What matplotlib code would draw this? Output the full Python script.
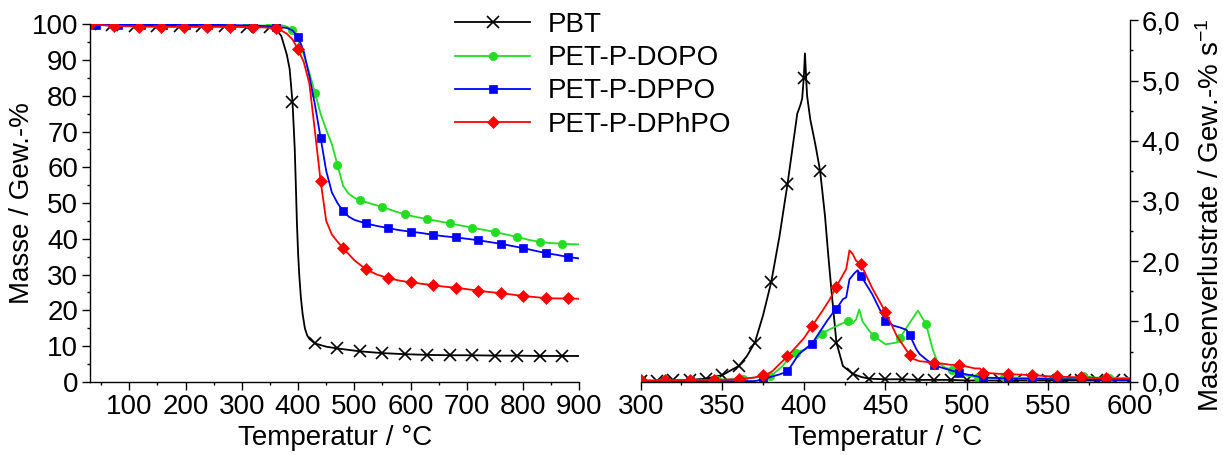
import numpy as np
import matplotlib
matplotlib.use('Agg')
import matplotlib.pyplot as plt
from matplotlib.ticker import MultipleLocator, FuncFormatter

plt.rcParams['font.family'] = ['Liberation Sans', 'DejaVu Sans']
plt.rcParams['mathtext.fontset'] = 'custom'
plt.rcParams['mathtext.rm'] = 'Liberation Sans'
plt.rcParams['mathtext.it'] = 'Liberation Sans:italic'
plt.rcParams['mathtext.default'] = 'regular'

# ---------------- data ----------------
series_names = ['PBT', 'PET-P-DOPO', 'PET-P-DPPO', 'PET-P-DPhPO']
colors = ['#000000', '#22dd22', '#0000ff', '#ff0000']
markers = ['x', 'o', 's', 'D']

# TGA (left): temperature / mass
pbt_T = [30, 70, 110, 150, 190, 230, 270, 310, 350, 360, 370, 375, 380, 385, 390, 392, 394, 396, 398, 400,
         402, 405, 408, 412, 416, 420, 430, 450, 470, 510, 550, 590, 630, 670, 710, 750, 790, 830, 870, 900]
pbt_m = [100, 99.7, 99.6, 99.6, 99.6, 99.5, 99.5, 99.4, 99.2, 98.8, 96.8, 94.2, 91.5, 87.5, 78.3, 72, 65.3, 55, 44, 36,
         30, 23.5, 19, 15, 13, 12, 10.7, 9.8, 9.3, 8.5, 8.0, 7.7, 7.5, 7.4, 7.4, 7.3, 7.3, 7.2, 7.2, 7.2]
pbt_mk = [30, 70, 110, 150, 190, 230, 270, 310, 350, 390, 430, 470, 510, 550, 590, 630, 670, 710, 750, 790, 830, 870]

dopo_T = [30, 70, 110, 150, 190, 230, 270, 310, 350, 370, 380, 390, 400, 410, 420, 430, 440, 450, 460, 470, 480,
          490, 500, 510, 530, 550, 570, 590, 610, 630, 650, 670, 690, 710, 730, 750, 770, 790, 810, 830, 850, 870, 900]
dopo_m = [100.3, 100.4, 100.4, 100.4, 100.4, 100.4, 100.4, 100.4, 100.2, 99.8, 99.4, 98.4, 95.8, 91.5, 86.5, 80.8,
          75, 70.5, 66.5, 60.7, 54.8, 52.6, 51.5, 50.8, 49.8, 48.9, 47.8, 46.8, 46.1, 45.5, 44.9, 44.3, 43.7, 43.1,
          42.5, 41.9, 41.2, 40.5, 39.7, 39.1, 38.8, 38.6, 38.4]
dopo_mk = [30, 70, 110, 150, 190, 230, 270, 310, 350, 390, 430, 470, 510, 550, 590, 630, 670, 710, 750, 790, 830, 870]

dppo_T = [30, 40, 80, 120, 160, 200, 240, 280, 320, 360, 380, 390, 400, 410, 420, 430, 440, 450, 460, 470, 480,
          490, 500, 520, 540, 560, 580, 600, 620, 640, 660, 680, 700, 720, 740, 760, 780, 800, 820, 840, 860, 880, 900]
dppo_m = [100, 99.9, 99.9, 99.9, 99.9, 99.9, 99.9, 99.8, 99.7, 99.4, 99.0, 98.3, 96.5, 92.5, 85.5, 77.5, 68.3,
          59, 53, 50, 47.8, 46.2, 45.3, 44.3, 43.6, 43.0, 42.4, 42.0, 41.6, 41.1, 40.7, 40.4, 40.0, 39.6, 39.1,
          38.6, 38.0, 37.4, 36.7, 36.0, 35.5, 34.9, 34.5]
dppo_mk = [40, 80, 120, 160, 200, 240, 280, 320, 360, 400, 440, 480, 520, 560, 600, 640, 680, 720, 760, 800, 840, 880]

dphpo_T = [30, 73, 117, 157, 198, 238, 279, 319, 360, 370, 380, 390, 400, 410, 420, 430, 440, 450, 460, 470, 480,
           500, 520, 540, 560, 580, 600, 620, 640, 660, 680, 700, 720, 740, 760, 780, 800, 820, 840, 860, 880, 900]
dphpo_m = [100, 99.6, 99.4, 99.3, 99.3, 99.3, 99.3, 99.3, 99.0, 98.3, 97.4, 95.8, 93, 89.5, 83.5, 70, 56.2, 45,
           41.2, 39.2, 37.4, 34.0, 31.5, 30.0, 29.0, 28.3, 27.8, 27.4, 27.0, 26.6, 26.3, 25.9, 25.5, 25.1, 24.8,
           24.4, 24.0, 23.7, 23.4, 23.3, 23.3, 23.2]
dphpo_mk = [30, 73, 117, 157, 198, 238, 279, 319, 360, 400, 440, 480, 520, 560, 600, 640, 680, 720, 760, 800, 840, 880]

# DTG (right): temperature / mass loss rate
pbt_dT = [300, 310, 320, 330, 340, 350, 360, 365, 370, 375, 380, 385, 390, 394, 396, 398, 399, 400, 400.7, 402,
          404, 407, 410, 413, 415, 417, 420, 424, 430, 435, 440, 450, 460, 470, 480, 490, 500, 510, 520, 530,
          540, 550, 560, 570, 580, 590, 600]
pbt_dv = [0.01, 0.01, 0.02, 0.03, 0.05, 0.11, 0.26, 0.42, 0.65, 1.1, 1.65, 2.4, 3.28, 4.06, 4.45, 4.6, 4.7, 5.05,
          5.45, 4.75, 4.35, 3.95, 3.5, 2.75, 2.1, 1.5, 0.65, 0.26, 0.13, 0.08, 0.05, 0.04, 0.04, 0.03, 0.03,
          0.03, 0.02, 0.02, 0.02, 0.02, 0.02, 0.02, 0.02, 0.02, 0.02, 0.02, 0.02]
pbt_dmk = [300, 310, 320, 330, 340, 350, 360, 370, 380, 390, 400, 410, 420, 430, 440, 450, 460, 470, 480, 490,
           500, 510, 520, 530, 540, 550, 560, 570, 580, 590, 600]

dopo_dT = [300, 315, 331, 347, 363, 370, 379, 381, 387, 391, 395, 401, 405, 411, 416, 422, 427, 430, 432, 434,
           436, 440, 443, 450, 457, 459, 465, 470, 475, 479, 482, 487, 491, 495, 500, 507, 515, 523, 530, 539,
           547, 555, 565, 571, 578, 587, 600]
dopo_dv = [0.02, 0.02, 0.02, 0.03, 0.05, 0.07, 0.1, 0.12, 0.26, 0.4, 0.48, 0.54, 0.62, 0.8, 0.87, 0.95, 1.0,
           0.97, 1.03, 1.2, 1.0, 0.85, 0.76, 0.62, 0.65, 0.73, 0.98, 1.18, 0.95, 0.54, 0.32, 0.23, 0.2, 0.15,
           0.1, 0.07, 0.06, 0.07, 0.07, 0.06, 0.06, 0.05, 0.06, 0.1, 0.07, 0.06, 0.06]
dopo_dmk = [315, 331, 347, 363, 379, 395, 411, 427, 443, 459, 475, 491, 507, 523, 539, 555, 571, 587]

dppo_dT = [300, 315, 330, 345, 360, 370, 375, 381, 385, 390, 397, 405, 414, 418, 420, 424, 426, 428, 431, 433,
           435, 442, 450, 455, 459, 463, 465, 469, 471, 475, 480, 485, 490, 495, 500, 510, 520, 525, 540, 555,
           570, 585, 600]
dppo_dv = [0.01, 0.01, 0.01, 0.01, 0.01, 0.01, 0.04, 0.09, 0.12, 0.17, 0.46, 0.63, 1.0, 1.15, 1.21, 1.37, 1.40,
           1.70, 1.80, 1.85, 1.76, 1.45, 1.01, 0.93, 0.90, 0.86, 0.77, 0.54, 0.46, 0.37, 0.27, 0.23, 0.19, 0.15,
           0.12, 0.07, 0.06, 0.05, 0.05, 0.04, 0.04, 0.03, 0.03]
dppo_dmk = [300, 315, 330, 345, 360, 375, 390, 405, 420, 435, 450, 465, 480, 495, 510, 525, 540, 555, 570, 585]

dphpo_dT = [300, 315, 330, 345, 360, 370, 375, 378, 381, 385, 390, 395, 400, 405, 412, 416, 420, 426, 428, 430,
            432, 435, 442, 450, 457, 465, 467, 471, 475, 480, 485, 490, 495, 500, 505, 508, 510, 515, 520, 525,
            530, 540, 550, 555, 560, 570, 580, 585, 590, 600]
dphpo_dv = [0.02, 0.02, 0.03, 0.03, 0.04, 0.07, 0.11, 0.13, 0.18, 0.29, 0.42, 0.57, 0.72, 0.92, 1.2, 1.37, 1.58,
            1.87, 2.18, 2.12, 2.01, 1.95, 1.55, 1.16, 0.76, 0.44, 0.38, 0.34, 0.33, 0.31, 0.3, 0.28, 0.28, 0.25,
            0.22, 0.22, 0.15, 0.14, 0.13, 0.13, 0.12, 0.11, 0.09, 0.09, 0.08, 0.07, 0.06, 0.06, 0.05, 0.05]
dphpo_dmk = [300, 315, 330, 345, 360, 375, 390, 405, 420, 435, 450, 465, 480, 495, 510, 525, 540, 555, 570, 585]

tga = [(pbt_T, pbt_m, pbt_mk), (dopo_T, dopo_m, dopo_mk), (dppo_T, dppo_m, dppo_mk), (dphpo_T, dphpo_m, dphpo_mk)]
dtg = [(pbt_dT, pbt_dv, pbt_dmk), (dopo_dT, dopo_dv, dopo_dmk), (dppo_dT, dppo_dv, dppo_dmk),
       (dphpo_dT, dphpo_dv, dphpo_dmk)]

# ---------------- figure ----------------
W, H = 1223, 455
fig = plt.figure(figsize=(W / 100, H / 100), dpi=100)
ax1 = fig.add_axes([90 / W, 1 - 381.7 / H, 489.3 / W, (381.7 - 24.4) / H])
ax2 = fig.add_axes([640.7 / W, 1 - 381.7 / H, 489.3 / W, (381.7 - 20.3) / H])

msizes = {'x': 8, 'o': 6, 's': 5.5, 'D': 6}
handles = []
for (T, m, mk), name, c, mkr in zip(tga, series_names, colors, markers):
    T = np.asarray(T, float)
    mask = list(np.isin(T, np.asarray(mk, float)))
    h, = ax1.plot(T, m, color=c, lw=1.3, marker=mkr, ms=msizes[mkr], markevery=mask,
                  mew=1.2 if mkr == 'x' else 0.5, mec=c, mfc=c, label=name)
    handles.append(h)

for (T, v, mk), name, c, mkr in zip(dtg, series_names, colors, markers):
    T = np.asarray(T, float)
    mask = list(np.isin(T, np.asarray(mk, float)))
    ax2.plot(T, v, color=c, lw=1.3, marker=mkr, ms=msizes[mkr], markevery=mask,
             mew=1.2 if mkr == 'x' else 0.5, mec=c, mfc=c)

fs = 20
# left axes style
ax1.set_xlim(30, 900)
ax1.set_ylim(0, 100)
ax1.spines['top'].set_visible(False)
ax1.spines['right'].set_visible(False)
ax1.xaxis.set_major_locator(MultipleLocator(100))
ax1.xaxis.set_minor_locator(MultipleLocator(50))
ax1.yaxis.set_major_locator(MultipleLocator(10))
ax1.yaxis.set_minor_locator(MultipleLocator(5))
ax1.set_xlabel('Temperatur / °C', fontsize=fs, labelpad=4)
ax1.set_ylabel('Masse / Gew.-%', fontsize=fs)
ax1.yaxis.set_label_coords(-0.112, 0.5)

# right axes style
ax2.set_xlim(300, 600)
ax2.set_ylim(0, 6)
ax2.spines['top'].set_visible(False)
ax2.spines['left'].set_visible(False)
ax2.yaxis.tick_right()
ax2.yaxis.set_label_position('right')
ax2.xaxis.set_major_locator(MultipleLocator(50))
ax2.xaxis.set_minor_locator(MultipleLocator(25))
ax2.yaxis.set_major_locator(MultipleLocator(1))
ax2.yaxis.set_minor_locator(MultipleLocator(0.5))
ax2.yaxis.set_major_formatter(FuncFormatter(lambda v, p: f'{v:.1f}'.replace('.', ',')))
ax2.set_xlabel('Temperatur / °C', fontsize=fs, labelpad=4)
ax2.set_ylabel('Massenverlustrate / Gew.-% s$^{-1}$', fontsize=fs, rotation=90)
ax2.yaxis.set_label_coords(1.137, 0.46)

for ax in (ax1, ax2):
    for s in ax.spines.values():
        s.set_linewidth(1.0)
    ax.tick_params(which='major', direction='out', length=5.5, width=1.0, labelsize=fs, pad=3)
    ax.tick_params(which='minor', direction='out', length=2.5, width=1.0)

fig.legend(handles=handles, loc='upper left', bbox_to_anchor=(455 / W, 1 - 12 / H), frameon=False,
           fontsize=fs, handlelength=2.7, handletextpad=0.65, labelspacing=0.26, borderpad=0, borderaxespad=0)

fig.savefig('out.png', dpi=100)
